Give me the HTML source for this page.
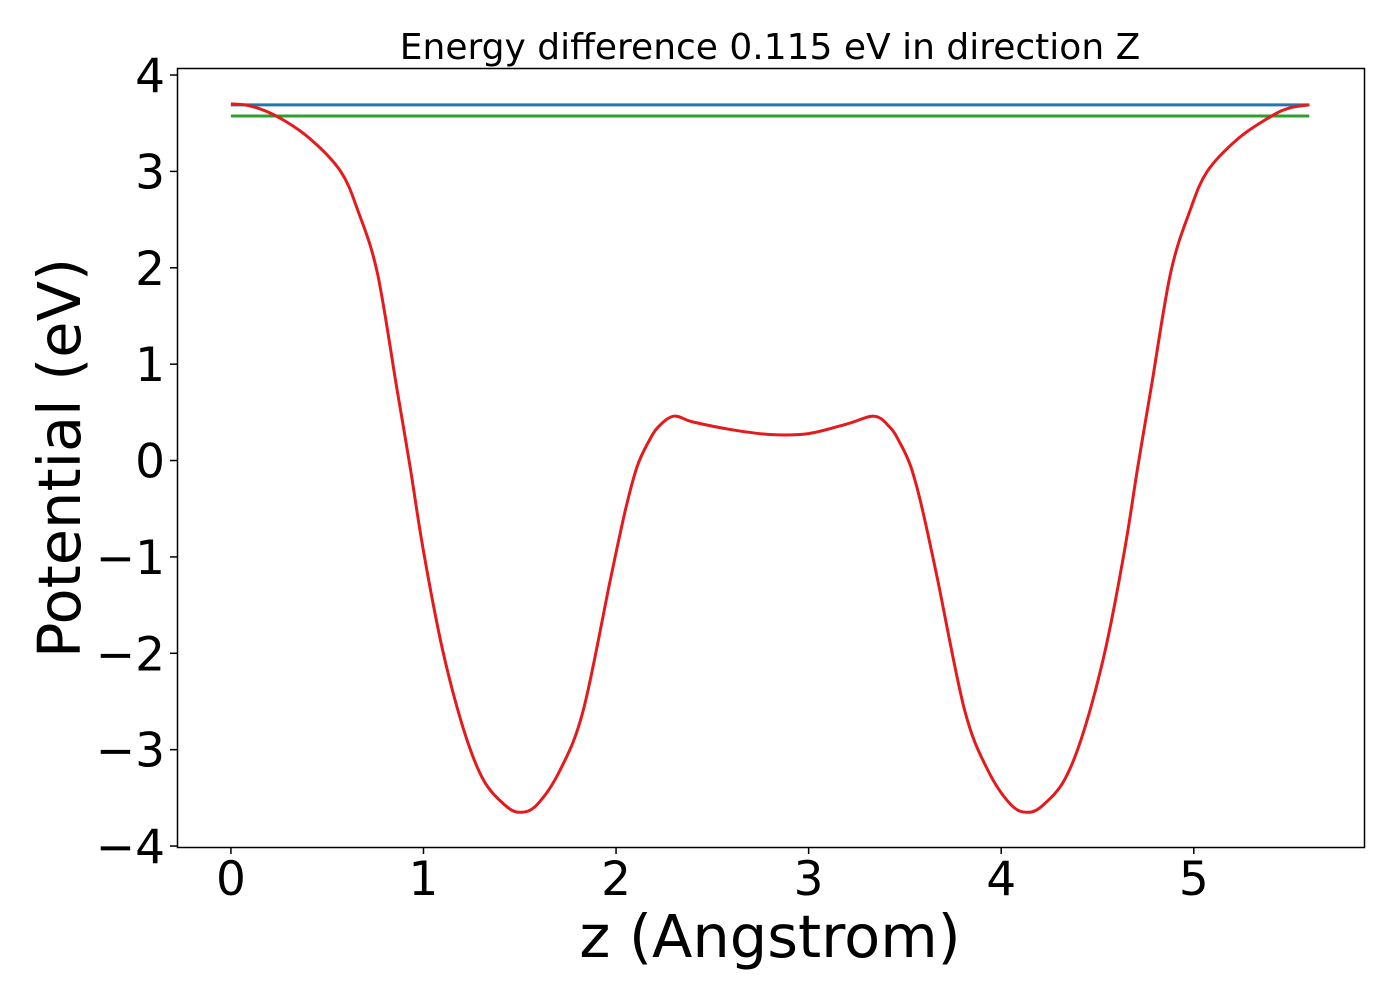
<!DOCTYPE html>
<html><head><meta charset="utf-8"><style>
body{margin:0;background:#fff}
svg text{font-family:"DejaVu Sans","Liberation Sans",sans-serif;fill:#000}
</style></head><body>
<svg id="chart" width="1400" height="1000" viewBox="0 0 1400 1000" xmlns="http://www.w3.org/2000/svg">
<rect x="0" y="0" width="1400" height="1000" fill="#fff"/>
<text x="770" y="59" font-size="36" text-anchor="middle">Energy difference 0.115 eV in direction Z</text>
<g id="plot"></g>
<rect x="177.5" y="68.5" width="1187" height="779" fill="none" stroke="#000" stroke-width="1.5"/>
<g id="xticks"></g><g id="yticks"></g>
<text x="770" y="957" font-size="59" text-anchor="middle">z (Angstrom)</text>
<text x="0" y="0" font-size="59" text-anchor="middle" transform="translate(80,458) rotate(-90)">Potential (eV)</text>
</svg>
<script>
const zValues=[0,0.1,0.24,0.41,0.57,0.66,0.76,0.86,0.93,1.0,1.1,1.21,1.31,1.42,1.5,1.59,1.71,1.83,1.97,2.05,2.11,2.17,2.22,2.3,2.4,2.6,2.8,3.0,3.2,3.34,3.42,3.47,3.53,3.59,3.67,3.81,3.93,4.05,4.14,4.22,4.33,4.43,4.54,4.64,4.71,4.78,4.88,4.98,5.07,5.23,5.4,5.5,5.6];
const potential=[3.7,3.68,3.57,3.34,3.0,2.59,1.95,0.77,-0.06,-0.94,-1.97,-2.8,-3.31,-3.57,-3.65,-3.57,-3.21,-2.59,-1.24,-0.5,-0.06,0.2,0.35,0.46,0.4,0.32,0.27,0.28,0.38,0.46,0.35,0.2,-0.06,-0.5,-1.24,-2.59,-3.21,-3.57,-3.65,-3.57,-3.31,-2.8,-1.97,-0.94,-0.06,0.77,1.95,2.59,3.0,3.34,3.57,3.66,3.69];
const levelBlue=3.69;
const levelGreen=3.575;
const lineX=[0,5.6];
const xTickLabels=[0,1,2,3,4,5];
const yTickLabels=[-4,-3,-2,-1,0,1,2,3,4];
const NS="http://www.w3.org/2000/svg";
const X0=177,X1=1364,Y0=68,Y1=847,xmin=-0.28,xmax=5.884,ymin=-4.01,ymax=4.073;
function sx(v){return X0+(v-xmin)/(xmax-xmin)*(X1-X0);}
function sy(v){return Y1-(v-ymin)/(ymax-ymin)*(Y1-Y0);}
const plot=document.getElementById('plot');
function smoothPath(pts){
  const P=pts.map(q=>[sx(q[0]),sy(q[1])]);
  let d='M'+P[0][0].toFixed(1)+','+P[0][1].toFixed(1);
  for(let i=0;i<P.length-1;i++){
    const p0=P[Math.max(0,i-1)],p1=P[i],p2=P[i+1],p3=P[Math.min(P.length-1,i+2)];
    const c1=[p1[0]+(p2[0]-p0[0])/6,p1[1]+(p2[1]-p0[1])/6];
    const c2=[p2[0]-(p3[0]-p1[0])/6,p2[1]-(p3[1]-p1[1])/6];
    d+=' C'+c1[0].toFixed(1)+','+c1[1].toFixed(1)+' '+c2[0].toFixed(1)+','+c2[1].toFixed(1)+' '+p2[0].toFixed(1)+','+p2[1].toFixed(1);
  }
  return d;
}
function line(pts,color,name){
  const p=document.createElementNS(NS,'path');
  p.setAttribute('d',smoothPath(pts));
  p.setAttribute('fill','none');p.setAttribute('stroke',color);p.setAttribute('stroke-width','3');p.setAttribute('stroke-linejoin','round');
  
  
  plot.appendChild(p);
}
line(lineX.map(x=>[x,levelBlue]),'#1f77b4','blue-energy-line');
line(lineX.map(x=>[x,levelGreen]),'#2ca02c','green-energy-line');
line(zValues.map((z,i)=>[z,potential[i]]),'#e41a1c','potential-curve');
const xt=document.getElementById('xticks');
xTickLabels.forEach(v=>{
  const l=document.createElementNS(NS,'line');
  l.setAttribute('x1',sx(v));l.setAttribute('x2',sx(v));l.setAttribute('y1',847);l.setAttribute('y2',854);l.setAttribute('stroke','#000');l.setAttribute('stroke-width','1.5');
  
  
  xt.appendChild(l);
  const t=document.createElementNS(NS,'text');
  t.setAttribute('x',sx(v));t.setAttribute('y',895);t.setAttribute('font-size','47');t.setAttribute('text-anchor','middle');
  t.textContent=String(v);
  
  
  xt.appendChild(t);
});
const yt=document.getElementById('yticks');
yTickLabels.forEach(v=>{
  const l=document.createElementNS(NS,'line');
  l.setAttribute('x1',170);l.setAttribute('x2',177);l.setAttribute('y1',sy(v));l.setAttribute('y2',sy(v));l.setAttribute('stroke','#000');l.setAttribute('stroke-width','1.5');
  
  
  yt.appendChild(l);
  const t=document.createElementNS(NS,'text');
  t.setAttribute('x',165);t.setAttribute('y',sy(v)+17);t.setAttribute('font-size','47');t.setAttribute('text-anchor','end');
  t.textContent=(v<0?'\u2212':'')+Math.abs(v);
  
  
  yt.appendChild(t);
});
</script>
</body></html>
